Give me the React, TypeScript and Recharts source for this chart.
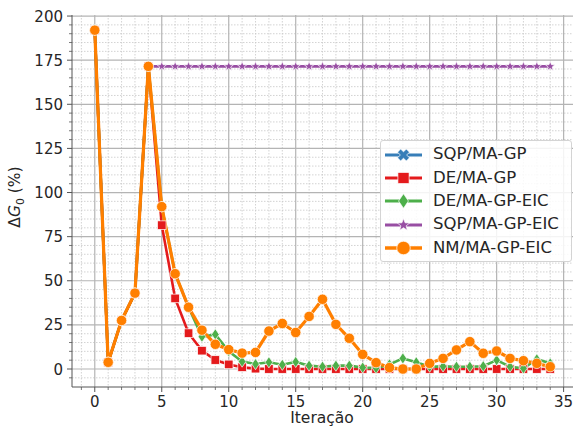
import React from "react";
import { LineChart, Line, XAxis, YAxis, CartesianGrid, Legend } from "recharts";

// iteration index (x axis)
const iterations = [
  0, 1, 2, 3, 4, 5, 6, 7, 8, 9, 10, 11, 12, 13, 14, 15, 16, 17,
  18, 19, 20, 21, 22, 23, 24, 25, 26, 27, 28, 29, 30, 31, 32, 33, 34,
];

// ΔG0 (%) per series
const sqpMaGp = [192, 3.8, 27.5, 43, 171.5];
const deMaGp = [
  192, 3.8, 27.5, 43, 171.5, 81.5, 40, 20.3, 10.4, 5.1, 2.6, 1, 0.2, 0, 0, 0, 0, 0,
  0, 0, 0, 0, 0, 0, 0, 0, 0, 0, 0, 0, 0, 0, 0, 0, 0,
];
const deMaGpEic = [
  192, 3.8, 27.5, 43, 171.5, 92, 54, 35, 18.3, 19.6, 10, 4.2, 2.8, 3.8, 2.4, 4, 1.9, 1.3,
  1.9, 1.9, 0.8, 0.5, 2.6, 6, 3.8, 1.3, 1.5, 1.3, 1.3, 1.6, 5, 1.3, 0.4, 5.5, 3.2,
];
const sqpMaGpEic = [
  null, null, null, null, 171.5, 171.5, 171.5, 171.5, 171.5, 171.5, 171.5, 171.5, 171.5,
  171.5, 171.5, 171.5, 171.5, 171.5, 171.5, 171.5, 171.5, 171.5, 171.5, 171.5, 171.5,
  171.5, 171.5, 171.5, 171.5, 171.5, 171.5, 171.5, 171.5, 171.5, 171.5,
];
const nmMaGpEic = [
  192, 3.8, 27.5, 43, 171.5, 92, 54, 35, 22, 14, 11, 9, 9.4, 21.5, 25.8, 20.7, 29.8, 39.5,
  25.3, 17.4, 8.3, 3.6, 0.8, 0, 0, 3.2, 6, 10.8, 15.5, 8.9, 10.2, 6, 4.7, 3.2, 1.3,
];

const xMajor = [0, 5, 10, 15, 20, 25, 30, 35];
const xMinor = [
  -1, 1, 2, 3, 4, 6, 7, 8, 9, 11, 12, 13, 14, 16, 17, 18, 19, 21, 22, 23, 24, 26, 27, 28,
  29, 31, 32, 33, 34,
];
const yMajor = [0, 25, 50, 75, 100, 125, 150, 175, 200];
const yMinor = [
  -5, 5, 10, 15, 20, 30, 35, 40, 45, 55, 60, 65, 70, 80, 85, 90, 95, 105, 110, 115, 120,
  130, 135, 140, 145, 155, 160, 165, 170, 180, 185, 190, 195,
];

const SERIES = [
  { key: "sqp", name: "SQP/MA-GP", color: "#377eb8", marker: "x", values: sqpMaGp, width: 2.6 },
  { key: "de", name: "DE/MA-GP", color: "#e41a1c", marker: "square", values: deMaGp, width: 2.6 },
  { key: "deEic", name: "DE/MA-GP-EIC", color: "#4daf4a", marker: "diamond", values: deMaGpEic, width: 2.6 },
  { key: "sqpEic", name: "SQP/MA-GP-EIC", color: "#984ea3", marker: "star", values: sqpMaGpEic, width: 2.6 },
  { key: "nmEic", name: "NM/MA-GP-EIC", color: "#ff7f00", marker: "circle", values: nmMaGpEic, width: 3.2 },
];

const data = iterations.map((it, i) => {
  const row: any = { it };
  SERIES.forEach((s) => {
    const v = s.values[i];
    row[s.key] = v === undefined ? null : v;
  });
  return row;
});

const FONT = "'DejaVu Sans', sans-serif";
const TEXT = "#262626";
const SPINE = "#555";

function Marker({ kind, cx, cy, color, scale = 1 }: any) {
  const edge = { stroke: "#fff", strokeWidth: 0.7 };
  if (kind === "circle") {
    return <circle cx={cx} cy={cy} r={5.2 * scale} fill={color} {...edge} />;
  }
  if (kind === "square") {
    const s = 4.3 * scale;
    return <rect x={cx - s} y={cy - s} width={2 * s} height={2 * s} fill={color} {...edge} />;
  }
  if (kind === "diamond") {
    const w = 3.8 * scale;
    const h = 5.6 * scale;
    const pts = `${cx},${cy - h} ${cx + w},${cy} ${cx},${cy + h} ${cx - w},${cy}`;
    return <polygon points={pts} fill={color} {...edge} />;
  }
  if (kind === "star") {
    const ro = 5 * scale;
    const ri = 2.1 * scale;
    const pts: string[] = [];
    for (let k = 0; k < 10; k++) {
      const r = k % 2 === 0 ? ro : ri;
      const a = -Math.PI / 2 + (k * Math.PI) / 5;
      pts.push(`${cx + r * Math.cos(a)},${cy + r * Math.sin(a)}`);
    }
    return <polygon points={pts.join(" ")} fill={color} {...edge} />;
  }
  // filled X
  const s = 4.8 * scale;
  const w = 1.7 * scale;
  const base = [
    [w, s], [w, w], [s, w], [s, -w], [w, -w], [w, -s],
    [-w, -s], [-w, -w], [-s, -w], [-s, w], [-w, w], [-w, s],
  ];
  const c = Math.SQRT1_2;
  const pts = base
    .map(([px, py]) => `${cx + (px - py) * c},${cy + (px + py) * c}`)
    .join(" ");
  return <polygon points={pts} fill={color} {...edge} />;
}

const XTick = (props: any) => {
  const { x, y, payload } = props;
  const v = payload.value;
  const major = v % 5 === 0;
  return (
    <g>
      <line x1={x} x2={x} y1={y} y2={y + (major ? 5 : 3)} stroke={SPINE} strokeWidth={major ? 1 : 0.8} />
      {major && (
        <text x={x} y={y + 20} textAnchor="middle" fill={TEXT} fontSize={15} fontFamily={FONT}>
          {v}
        </text>
      )}
    </g>
  );
};

const YTick = (props: any) => {
  const { x, y, payload } = props;
  const v = payload.value;
  const major = v % 25 === 0;
  return (
    <g>
      <line x1={x - (major ? 5 : 3)} x2={x} y1={y} y2={y} stroke={SPINE} strokeWidth={major ? 1 : 0.8} />
      {major && (
        <text x={x - 9} y={y + 5.5} textAnchor="end" fill={TEXT} fontSize={15} fontFamily={FONT}>
          {v}
        </text>
      )}
    </g>
  );
};

const renderLegend = () => (
  <div
    style={{
      border: "1px solid #d4d4d4",
      borderRadius: 3,
      background: "rgba(255,255,255,0.85)",
      padding: "2px 0 2px 3px",
      boxSizing: "border-box",
      width: 192,
      fontFamily: FONT,
      fontSize: 16.5,
      color: TEXT,
    }}
  >
    {SERIES.map((s) => (
      <div key={s.key} style={{ display: "flex", alignItems: "center", height: 23.3 }}>
        <svg width={40} height={22} style={{ display: "block" }}>
          <line x1={1} x2={38} y1={11} y2={11} stroke={s.color} strokeWidth={s.width + 0.4} />
          <Marker kind={s.marker} cx={19.5} cy={11} color={s.color} scale={1.3} />
        </svg>
        <span style={{ marginLeft: 9, whiteSpace: "nowrap", lineHeight: 1 }}>{s.name}</span>
      </div>
    ))}
  </div>
);

export default function App() {
  return (
    <div style={{ position: "absolute", left: 0, top: 0, width: 574, height: 429, background: "#fff" }}>
      <LineChart width={574} height={429} data={data} margin={{ top: 15, right: 1, bottom: 12, left: 0 }}>
        <CartesianGrid
          horizontalValues={yMinor}
          verticalValues={xMinor}
          stroke="#c8c8c8"
          strokeWidth={0.8}
          strokeDasharray="1.5 1.5"
        />
        <CartesianGrid horizontalValues={yMajor} verticalValues={xMajor} stroke="#b4b4b4" strokeWidth={1.2} />
        <XAxis
          dataKey="it"
          type="number"
          domain={[-1.7, 35.7]}
          allowDataOverflow
          ticks={[...xMajor, ...xMinor].sort((a, b) => a - b)}
          interval={0}
          tickSize={0}
          tickMargin={0}
          tickLine={false}
          tick={<XTick />}
          height={30}
          axisLine={{ stroke: SPINE, strokeWidth: 1 }}
        />
        <XAxis
          xAxisId="top"
          orientation="top"
          type="number"
          domain={[-1.7, 35.7]}
          allowDataOverflow
          tick={false}
          tickLine={false}
          height={0}
          axisLine={{ stroke: SPINE, strokeWidth: 1 }}
        />
        <YAxis
          type="number"
          domain={[-10.2, 200.6]}
          allowDataOverflow
          ticks={[...yMajor, ...yMinor].sort((a, b) => a - b)}
          interval={0}
          tickSize={0}
          tickMargin={0}
          tickLine={false}
          tick={<YTick />}
          width={72}
          axisLine={{ stroke: SPINE, strokeWidth: 1 }}
        />
        <YAxis
          yAxisId="right"
          orientation="right"
          type="number"
          domain={[-10.2, 200.6]}
          allowDataOverflow
          tick={false}
          tickLine={false}
          width={0}
          axisLine={{ stroke: SPINE, strokeWidth: 1 }}
        />
        {SERIES.map((s) => (
          <Line
            key={s.key}
            type="linear"
            dataKey={s.key}
            name={s.name}
            stroke={s.color}
            strokeWidth={s.width}
            isAnimationActive={false}
            activeDot={false}
            dot={(p: any) =>
              p.cy == null || p.value == null ? (
                <g key={`${s.key}-${p.index}`} />
              ) : (
                <Marker key={`${s.key}-${p.index}`} kind={s.marker} cx={p.cx} cy={p.cy} color={s.color} />
              )
            }
          />
        ))}
        <Legend
          layout="horizontal"
          align="center"
          verticalAlign="middle"
          content={renderLegend}
          wrapperStyle={{ position: "absolute", left: 380, top: 140, width: 192 }}
        />
      </LineChart>
      <div
        style={{
          position: "absolute",
          left: 322,
          top: 419,
          transform: "translate(-50%, -50%)",
          fontFamily: FONT,
          fontSize: 15.5,
          lineHeight: 1,
          color: TEXT,
          whiteSpace: "nowrap",
        }}
      >
        Iteração
      </div>
      <div
        style={{
          position: "absolute",
          left: 17,
          top: 197,
          transform: "translate(-50%, -50%) rotate(-90deg)",
          fontFamily: FONT,
          fontSize: 15.5,
          lineHeight: 1,
          color: TEXT,
          whiteSpace: "nowrap",
        }}
      >
        Δ<i>G</i>
        <sub style={{ fontSize: "0.7em" }}>0</sub> (%)
      </div>
    </div>
  );
}
